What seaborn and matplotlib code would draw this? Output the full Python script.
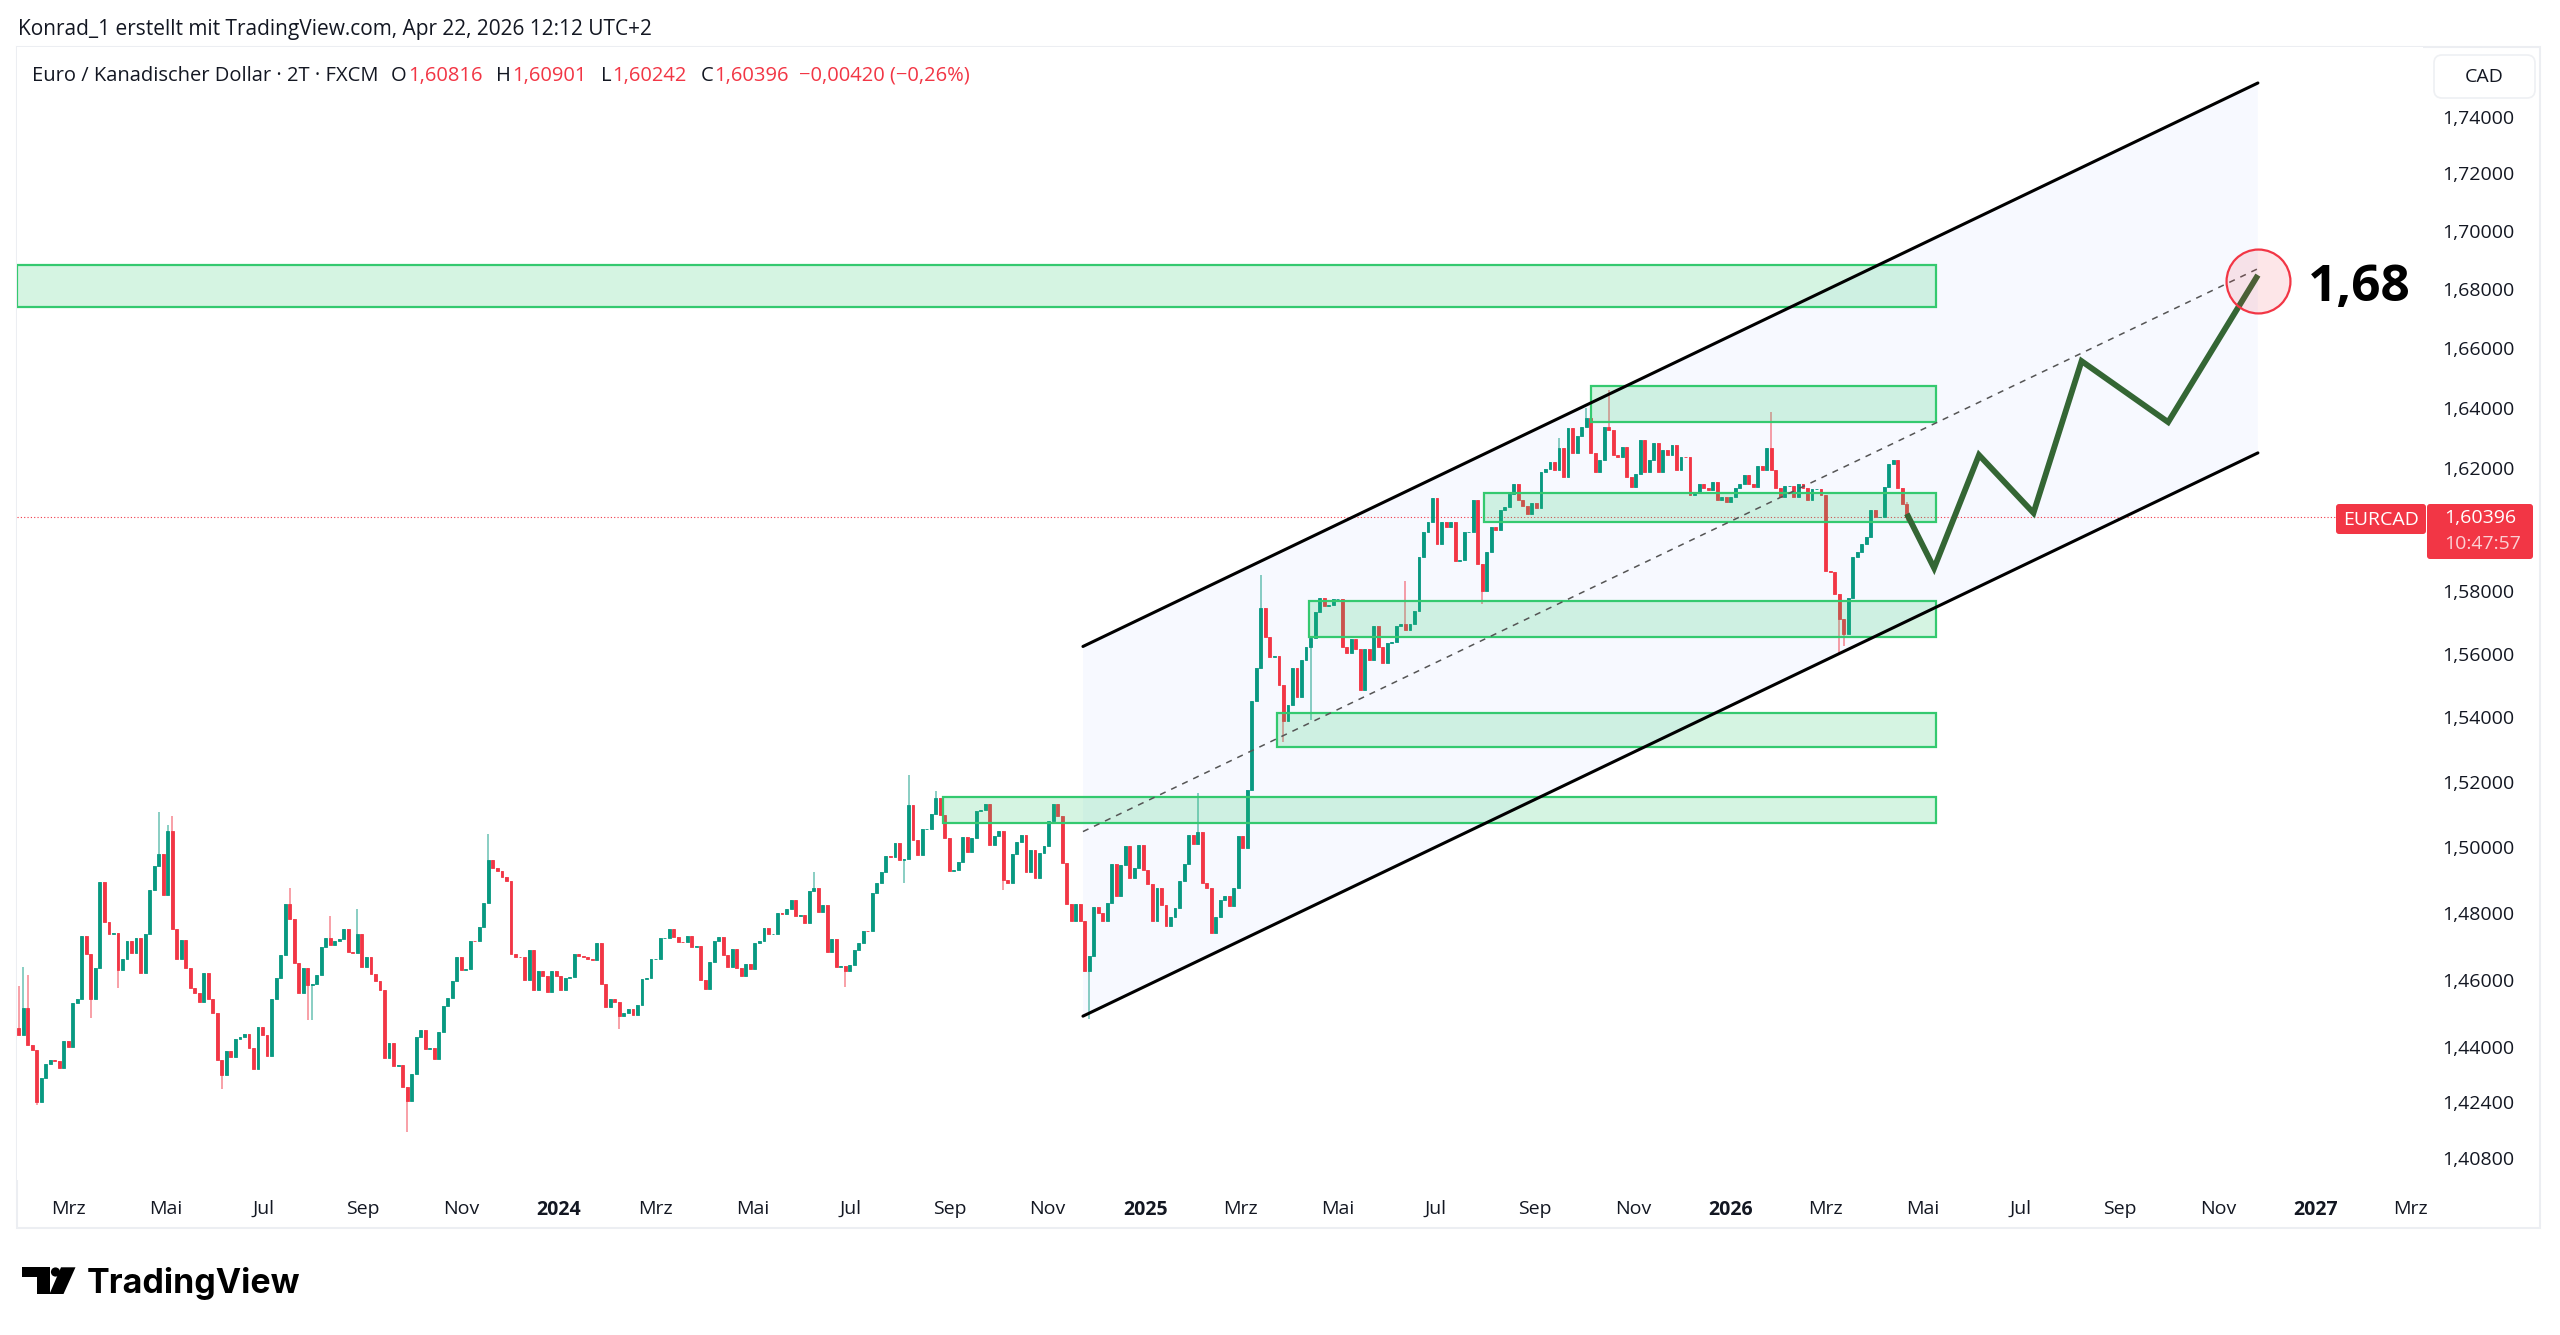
import numpy as np
import pandas as pd
import matplotlib
matplotlib.use("Agg")
import matplotlib.pyplot as plt
import matplotlib.dates as mdates
from matplotlib.patches import Rectangle, Polygon, FancyBboxPatch, Circle
from matplotlib.transforms import IdentityTransform
from matplotlib.ticker import NullLocator, NullFormatter
import seaborn as sns

W, H = 2560, 1335

# ---- EURCAD 2-day candles, closes (open = previous close) ----
first_open = 1.4456
first_bar = "2023-01-29"
last_bar = "2026-04-21"

# Feb 2023 - Dec 2023
close_a = [
    1.4438, 1.4515, 1.4407, 1.4394, 1.4242, 1.4310, 1.4352, 1.4362, 1.4360, 1.4341,
    1.4419, 1.4402, 1.4530, 1.4542, 1.4730, 1.4676, 1.4544, 1.4636, 1.4893, 1.4773,
    1.4735, 1.4738, 1.4630, 1.4661, 1.4716, 1.4680, 1.4723, 1.4621, 1.4735, 1.4868,
    1.4942, 1.4979, 1.4853, 1.5048, 1.4750, 1.4661, 1.4718, 1.4636, 1.4574, 1.4560,
    1.4533, 1.4621, 1.4542, 1.4500, 1.4363, 1.4320, 1.4389, 1.4371, 1.4424, 1.4431,
    1.4439, 1.4399, 1.4337, 1.4459, 1.4438, 1.4375, 1.4544, 1.4604, 1.4673, 1.4826,
    1.4780, 1.4650, 1.4561, 1.4634, 1.4584, 1.4586, 1.4614, 1.4698, 1.4723, 1.4703,
    1.4715, 1.4720, 1.4750, 1.4683, 1.4678, 1.4736, 1.4638, 1.4668, 1.4616, 1.4596,
    1.4569, 1.4368, 1.4412, 1.4346, 1.4348, 1.4286, 1.4244, 1.4322, 1.4431, 1.4451,
    1.4397, 1.4399, 1.4365, 1.4444, 1.4523, 1.4545, 1.4596, 1.4668, 1.4628, 1.4632,
    1.4716, 1.4714, 1.4756, 1.4828, 1.4959, 1.4934, 1.4927, 1.4907, 1.4897, 1.4676,
    1.4668, 1.4666,
]
# Dec 2023 - Oct 2024
close_b = [
    1.4599, 1.4688, 1.4569, 1.4625, 1.4611, 1.4564, 1.4625, 1.4610, 1.4569, 1.4604,
    1.4608, 1.4675, 1.4670, 1.4666, 1.4660, 1.4658, 1.4708, 1.4586, 1.4520, 1.4542,
    1.4533, 1.4492, 1.4500, 1.4513, 1.4495, 1.4525, 1.4601, 1.4604, 1.4660, 1.4660,
    1.4723, 1.4723, 1.4750, 1.4728, 1.4713, 1.4711, 1.4731, 1.4698, 1.4701, 1.4599,
    1.4572, 1.4651, 1.4716, 1.4728, 1.4673, 1.4638, 1.4691, 1.4635, 1.4611, 1.4645,
    1.4633, 1.4710, 1.4716, 1.4753, 1.4735, 1.4737, 1.4798, 1.4797, 1.4810, 1.4838,
    1.4790, 1.4792, 1.4768, 1.4866, 1.4876, 1.4803, 1.4823, 1.4683, 1.4721, 1.4638,
    1.4640, 1.4625, 1.4643, 1.4688, 1.4708, 1.4746, 1.4745, 1.4860, 1.4890, 1.4924,
    1.4971, 1.4970, 1.5012, 1.4959, 1.4962, 1.5128, 1.5020, 1.4974, 1.5053, 1.5053,
    1.5101, 1.5149, 1.5096, 1.5025, 1.4926, 1.4928, 1.4954, 1.5028, 1.4984, 1.5027,
    1.5108, 1.5113, 1.5131, 1.5004, 1.5033, 1.5048, 1.4898,
]
# Oct 2024 - Jun 2025
close_c = [
    1.4889, 1.4977, 1.5013, 1.5037, 1.4923, 1.4989, 1.4905, 1.4981, 1.5002, 1.5079,
    1.5130, 1.5095, 1.4950, 1.4827, 1.4776, 1.4827, 1.4774, 1.4626, 1.4671, 1.4818,
    1.4799, 1.4774, 1.4830, 1.4948, 1.4849, 1.4943, 1.5002, 1.4905, 1.4935, 1.5006,
    1.4929, 1.4886, 1.4776, 1.4875, 1.4824, 1.4760, 1.4786, 1.4813, 1.4897, 1.4948,
    1.5035, 1.5008, 1.5046, 1.4889, 1.4875, 1.4740, 1.4786, 1.4837, 1.4851, 1.4821,
    1.4873, 1.5033, 1.4995, 1.5174, 1.5451, 1.5556, 1.5745, 1.5654, 1.5591, 1.5593,
    1.5501, 1.5389, 1.5439, 1.5555, 1.5462, 1.5580, 1.5620, 1.5651, 1.5734, 1.5779,
    1.5753, 1.5755, 1.5773, 1.5773, 1.5620, 1.5601, 1.5646, 1.5616, 1.5484, 1.5614,
    1.5580, 1.5688, 1.5620,
]
# Jun 2025 - Apr 2026
close_d = [
    1.5572, 1.5635, 1.5638, 1.5688, 1.5694, 1.5675, 1.5694, 1.5737, 1.5909, 1.5990,
    1.6023, 1.6103, 1.5953, 1.6023, 1.6007, 1.6023, 1.5898, 1.5900, 1.5990, 1.5992,
    1.6094, 1.5887, 1.5801, 1.5926, 1.6007, 1.5996, 1.6062, 1.6073, 1.6116, 1.6149,
    1.6094, 1.6075, 1.6051, 1.6084, 1.6070, 1.6187, 1.6198, 1.6220, 1.6193, 1.6265,
    1.6171, 1.6331, 1.6249, 1.6306, 1.6337, 1.6365, 1.6250, 1.6187, 1.6226, 1.6337,
    1.6326, 1.6243, 1.6237, 1.6271, 1.6171, 1.6138, 1.6182, 1.6293, 1.6187, 1.6226,
    1.6282, 1.6187, 1.6259, 1.6243, 1.6276, 1.6193, 1.6237, 1.6236, 1.6111, 1.6122,
    1.6149, 1.6133, 1.6127, 1.6155, 1.6094, 1.6105, 1.6089, 1.6105, 1.6133, 1.6149,
    1.6176, 1.6149, 1.6138, 1.6206, 1.6193, 1.6267, 1.6193, 1.6133, 1.6105, 1.6140,
    1.6140, 1.6105, 1.6149, 1.6133, 1.6094, 1.6130, 1.6131, 1.6111, 1.5866, 1.5861,
    1.5790, 1.5710, 1.5662, 1.5779, 1.5909, 1.5926, 1.5953, 1.5975, 1.6062, 1.6040,
    1.6040, 1.6138, 1.6215, 1.6226, 1.6133, 1.60816, 1.60396,
]

# visible wicks (bar index -> price)
wick_hi = {0: 1.4581, 1: 1.4638, 2: 1.4613, 31: 1.5107, 33: 1.5065, 34: 1.5093,
           60: 1.4876, 69: 1.4790, 75: 1.4810, 104: 1.5040, 176: 1.4924,
           197: 1.5220, 203: 1.5170, 261: 1.5163, 275: 1.5851, 307: 1.5833,
           341: 1.6300, 347: 1.6400, 352: 1.6459, 388: 1.6387, 400: 1.6060,
           418: 1.60901}
wick_lo = {4: 1.4232, 16: 1.4488, 22: 1.4574, 45: 1.4279, 64: 1.4480, 65: 1.4480,
           86: 1.4155, 133: 1.4455, 183: 1.4579, 196: 1.4890, 218: 1.4868,
           237: 1.4484, 280: 1.5323, 286: 1.5390, 324: 1.5758, 403: 1.5600,
           404: 1.5625, 418: 1.60242}

# ---- drawings ----
zone_lo = [1.6739, 1.6351, 1.6022, 1.5654, 1.5307, 1.5071]
zone_hi = [1.6883, 1.6472, 1.6117, 1.5769, 1.5414, 1.5151]
zone_start = ["2023-01-28", "2025-10-06", "2025-07-31", "2025-04-13", "2025-03-24", "2024-08-28"]
zone_end = "2026-05-09"

channel_dates = ["2024-11-23", "2026-11-26"]
channel_upper = [1.5623, 1.7519]
channel_lower = [1.4492, 1.6250]
channel_mid = [1.5046, 1.6870]

path_dates = ["2026-04-21", "2026-05-08", "2026-06-05", "2026-07-09",
              "2026-08-08", "2026-10-01", "2026-11-26"]
path_prices = [1.6050, 1.5874, 1.6243, 1.6053, 1.6556, 1.6352, 1.6848]

target_date = "2026-11-26"
target_price = 1.6828
target_text_date = "2026-12-27"
target_text_price = 1.6804
target_label = "1,68"

price_ticks = [1.408, 1.424, 1.44, 1.46, 1.48, 1.50, 1.52, 1.54, 1.56, 1.58,
               1.62, 1.64, 1.66, 1.68, 1.70, 1.72, 1.74]
month_ticks = ["2023-03-01", "2023-05-01", "2023-07-01", "2023-09-01", "2023-11-01",
               "2024-01-01", "2024-03-01", "2024-05-01", "2024-07-01", "2024-09-01",
               "2024-11-01", "2025-01-01", "2025-03-01", "2025-05-01", "2025-07-01",
               "2025-09-01", "2025-11-01", "2026-01-01", "2026-03-01", "2026-05-01",
               "2026-07-01", "2026-09-01", "2026-11-01", "2027-01-01", "2027-03-01"]
month_labels = ["Mrz", "Mai", "Jul", "Sep", "Nov", "2024", "Mrz", "Mai", "Jul", "Sep",
                "Nov", "2025", "Mrz", "Mai", "Jul", "Sep", "Nov", "2026", "Mrz", "Mai",
                "Jul", "Sep", "Nov", "2027", "Mrz"]

GREEN = "#089981"
RED = "#f23645"
TXT = "#131722"

sns.set_theme(style="white")
plt.rcParams["font.family"] = ["Open Sans", "DejaVu Sans"]

closes = np.array(close_a + close_b + close_c + close_d)
opens = np.concatenate([[first_open], closes[:-1]])
df = pd.DataFrame({
    "date": pd.date_range(first_bar, last_bar, periods=len(closes)),
    "open": opens,
    "close": closes,
})
df["high"] = df[["open", "close"]].max(axis=1)
df["low"] = df[["open", "close"]].min(axis=1)
for i, v in wick_hi.items():
    df.loc[i, "high"] = max(df.loc[i, "high"], v)
for i, v in wick_lo.items():
    df.loc[i, "low"] = min(df.loc[i, "low"], v)
last_close = df["close"].iloc[-1]

fig = plt.figure(figsize=(W / 100, H / 100), dpi=100)
fig.patch.set_facecolor("white")
ax = fig.add_axes([17 / W, 1 - 1180 / H, (2423 - 17) / W, (1180 - 47) / H])
ax.set_yscale("log")
ax.set_xlim(pd.Timestamp("2023-01-28"), pd.Timestamp("2027-03-09"))
ax.set_ylim(1.40173, 1.76476)

# channel background
cd = pd.to_datetime(channel_dates)
cx = mdates.date2num(cd)
ax.add_patch(Polygon([(cx[0], channel_upper[0]), (cx[1], channel_upper[1]),
                      (cx[1], channel_lower[1]), (cx[0], channel_lower[0])],
                     closed=True, facecolor="#2962ff", alpha=0.035, edgecolor="none", zorder=1))

# candles
up = df["close"] >= df["open"]
colors = np.where(up, GREEN, RED)
ax.vlines(df["date"], df["low"], df["high"], colors=colors, linewidth=1.1, alpha=0.6, zorder=3)
ax.bar(df["date"], (df["close"] - df["open"]).abs(), bottom=df[["open", "close"]].min(axis=1),
       width=1.8, color=colors, edgecolor=colors, linewidth=0.6, zorder=4)

# zones
zx_end = mdates.date2num(pd.Timestamp(zone_end))
for s, lo, hi in zip(zone_start, zone_lo, zone_hi):
    x0 = mdates.date2num(pd.Timestamp(s))
    ax.add_patch(Rectangle((x0, lo), zx_end - x0, hi - lo, facecolor="#2ecc71",
                           alpha=0.2, edgecolor="none", zorder=5))
    ax.add_patch(Rectangle((x0, lo), zx_end - x0, hi - lo, facecolor="none",
                           edgecolor="#34c96f", linewidth=1.6, zorder=5))

# channel lines
ax.plot(cd, channel_upper, color="black", linewidth=2.2, zorder=6)
ax.plot(cd, channel_lower, color="black", linewidth=2.2, zorder=6)
ax.plot(cd, channel_mid, color="#555555", linewidth=1.1, linestyle=(0, (4, 4)), zorder=6)

# last price line
ax.axhline(last_close, xmin=0, xmax=(2336 - 17) / (2423 - 17), color=RED,
           linewidth=0.8, linestyle=(0, (1, 2)), zorder=2)

# projection path
sns.lineplot(x=pd.to_datetime(path_dates), y=path_prices, ax=ax, color="#346634",
             linewidth=4.2, estimator=None, sort=False, zorder=7,
             solid_joinstyle="miter", solid_capstyle="butt")

# target circle and label
ax.scatter([pd.Timestamp(target_date)], [target_price], s=2116,
           facecolor=(0.95, 0.21, 0.27, 0.12), edgecolor=RED, linewidth=1.6, zorder=8)
ax.text(pd.Timestamp(target_text_date), target_text_price, target_label, fontsize=37,
        fontweight="bold", color="black", ha="left", va="center", zorder=9)

# axes styling
for sp in ax.spines.values():
    sp.set_visible(False)
ax.set_xlabel("")
ax.set_ylabel("")
ax.yaxis.tick_right()
ax.set_yticks(price_ticks)
ax.set_yticklabels([f"{v:.5f}".replace(".", ",") for v in price_ticks])
ax.yaxis.set_minor_locator(NullLocator())
ax.yaxis.set_minor_formatter(NullFormatter())
ax.set_xticks(pd.to_datetime(month_ticks))
ax.set_xticklabels(month_labels)
ax.tick_params(axis="y", length=0, pad=14, labelsize=14, labelcolor=TXT)
ax.tick_params(axis="x", length=0, pad=14.5, labelsize=14, labelcolor=TXT)
for lab in ax.get_xticklabels():
    if lab.get_text().isdigit():
        lab.set_fontweight("bold")
ax.grid(False)

# pane border
fig.add_artist(Rectangle((17, H - 1228), 2540 - 17, 1228 - 47, transform=IdentityTransform(),
                         facecolor="none", edgecolor="#eceef2", linewidth=1.5, zorder=0))

# CAD box
fig.add_artist(FancyBboxPatch((2434, H - 98), 101, 43, boxstyle="round,pad=0,rounding_size=8",
                              transform=IdentityTransform(), facecolor="white",
                              edgecolor="#eef0f3", linewidth=1.2))
fig.text(2484 / W, 1 - 77 / H, "CAD", fontsize=14, color=TXT, ha="center", va="center")

# price label boxes
yd = ax.transData.transform((mdates.date2num(df["date"].iloc[-1]), last_close))[1] - 2
fig.add_artist(FancyBboxPatch((2336, yd - 15), 90, 30, boxstyle="round,pad=0,rounding_size=3",
                              transform=IdentityTransform(), facecolor=RED, edgecolor="none"))
fig.add_artist(FancyBboxPatch((2427, yd - 40), 106, 55, boxstyle="round,pad=0,rounding_size=3",
                              transform=IdentityTransform(), facecolor=RED, edgecolor="none"))
fig.text(2381 / W, (yd - 1) / H, "EURCAD", fontsize=14, color="white", ha="center", va="center")
fig.text(2444 / W, (yd + 1) / H, f"{last_close:.5f}".replace(".", ","), fontsize=14,
         color="white", ha="left", va="center")
fig.text(2444 / W, (yd - 25) / H, "10:47:57", fontsize=14, color="#fbd0d4",
         ha="left", va="center")

# header texts
fig.text(17.5 / W, 1 - 29 / H, "Konrad_1 erstellt mit TradingView.com, Apr 22, 2026 12:12 UTC+2",
         fontsize=15, color=TXT, ha="left", va="center")

renderer = fig.canvas.get_renderer()
legend = [("Euro / Kanadischer Dollar · 2T · FXCM", TXT, 0),
          ("O", TXT, 13), ("1,60816", RED, 1),
          ("H", TXT, 14), ("1,60901", RED, 1),
          ("L", TXT, 14), ("1,60242", RED, 1),
          ("C", TXT, 14), ("1,60396", RED, 1),
          ("−0,00420 (−0,26%)", RED, 10)]
x = 31.6
for txt, col, gap in legend:
    x += gap
    t = fig.text(x / W, 1 - 76 / H, txt, fontsize=14.5, color=col, ha="left", va="center")
    x += t.get_window_extent(renderer).width

# TradingView logo
def px(pts):
    return [(a, H - b) for a, b in pts]

fig.add_artist(Polygon(px([(21.7, 1267.3), (50, 1267.3), (50, 1294), (37.3, 1294),
                           (37.3, 1276.7), (21.7, 1276.7)]), closed=True,
                       transform=IdentityTransform(), facecolor="black", edgecolor="none"))
fig.add_artist(Circle((55.5, H - 1272), 4.6, transform=IdentityTransform(),
                      facecolor="black", edgecolor="none"))
fig.add_artist(Polygon(px([(61, 1267.3), (75.5, 1267.3), (63.5, 1294), (49.5, 1294)]),
                       closed=True, transform=IdentityTransform(),
                       facecolor="black", edgecolor="none"))
fig.text(87 / W, 1 - 1293 / H, "TradingView", fontsize=24.5, fontweight="bold",
         family=["Inter", "DejaVu Sans"], color="black", ha="left", va="baseline")

fig.savefig("out.png", dpi=100, facecolor="white")
